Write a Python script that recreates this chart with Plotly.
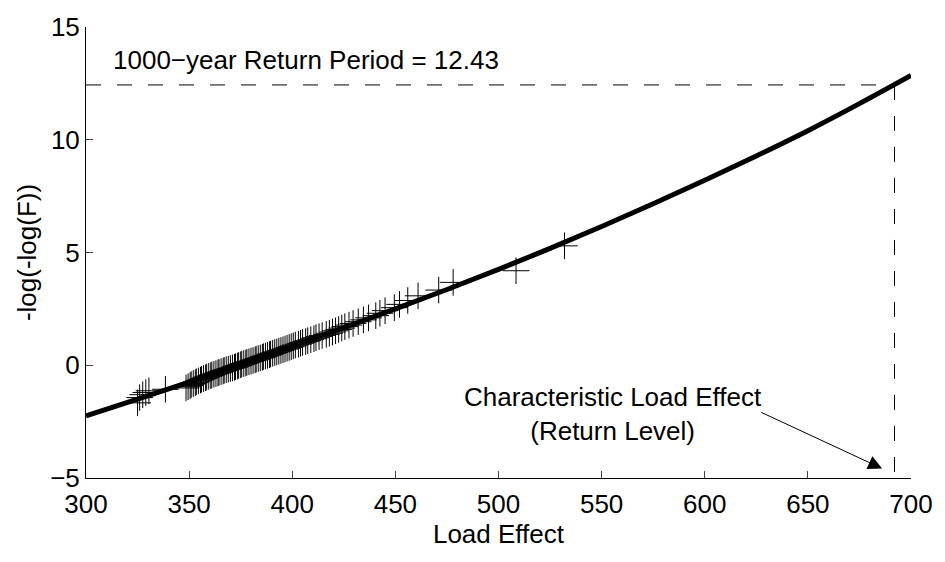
import plotly.graph_objects as go

# fitted curve
curve_x = [300, 325, 350, 375, 400, 425, 450, 475, 500, 525, 550, 575, 600, 625, 650, 675, 700]
curve_y = [-2.24, -1.50, -0.75, 0.04, 0.85, 1.67, 2.50, 3.36, 4.25, 5.18, 6.15, 7.16, 8.20, 9.28, 10.40, 11.60, 12.85]

# observed load effects (sorted) and their reduced variates
data_x = [325.0, 326.0, 327.5, 329.0, 330.5, 338.5, 348.5, 349.5, 350.5, 351.0,
          352.0, 353.0, 353.5, 354.5, 355.5, 356.0, 357.0, 358.0, 358.5, 359.5,
          360.5, 361.0, 362.0, 363.0, 364.0, 364.5, 365.5, 366.5, 367.0, 368.0,
          369.0, 370.0, 371.0, 372.0, 372.5, 373.5, 374.0, 375.0, 375.5, 376.5,
          377.5, 378.0, 379.0, 380.0, 381.0, 382.0, 382.5, 383.5, 384.5, 385.5,
          386.0, 387.0, 388.0, 389.0, 389.5, 390.5, 391.5, 392.5, 393.5, 394.5,
          395.5, 396.5, 397.5, 398.5, 399.5, 400.5, 401.5, 403.0, 404.0, 405.0,
          406.5, 407.5, 409.0, 410.5, 411.5, 413.0, 414.5, 416.5, 418.0, 419.5,
          421.0, 422.5, 424.0, 425.5, 427.5, 429.5, 432.0, 434.5, 437.0, 440.5,
          442.5, 445.0, 449.5, 452.0, 456.0, 461.0, 471.0, 478.0, 508.5, 532.0]
data_y = [-1.667, -1.435, -1.305, -1.210, -1.132, -1.065, -1.006, -0.952, -0.902, -0.856,
          -0.813, -0.771, -0.732, -0.694, -0.658, -0.623, -0.589, -0.556, -0.523, -0.492,
          -0.460, -0.430, -0.400, -0.370, -0.341, -0.312, -0.284, -0.255, -0.227, -0.200,
          -0.172, -0.144, -0.117, -0.090, -0.062, -0.035, -0.008, 0.019, 0.047, 0.074,
          0.101, 0.128, 0.156, 0.183, 0.211, 0.239, 0.267, 0.295, 0.324, 0.352,
          0.381, 0.410, 0.440, 0.469, 0.499, 0.530, 0.560, 0.592, 0.623, 0.656,
          0.688, 0.721, 0.755, 0.789, 0.824, 0.860, 0.897, 0.934, 0.972, 1.011,
          1.051, 1.092, 1.135, 1.178, 1.223, 1.269, 1.317, 1.367, 1.418, 1.472,
          1.528, 1.587, 1.648, 1.713, 1.781, 1.853, 1.930, 2.013, 2.102, 2.199,
          2.305, 2.421, 2.552, 2.700, 2.872, 3.079, 3.335, 3.676, 4.192, 5.296]

return_level = 692.0
return_period_value = 12.43
x_ticks = [300, 350, 400, 450, 500, 550, 600, 650, 700]
y_ticks = [-5, 0, 5, 10, 15]
x_range = [300, 700]
y_range = [-5, 15]

FONT = "Liberation Sans, Arial, Helvetica, sans-serif"
FS = 26

fig = go.Figure()

fig.add_trace(go.Scatter(
    x=[x_range[0], return_level], y=[return_period_value, return_period_value],
    mode="lines", line=dict(color="black", width=1, dash="15px,16px"),
    hoverinfo="skip", showlegend=False))
fig.add_trace(go.Scatter(
    x=[return_level, return_level], y=[return_period_value, y_range[0]],
    mode="lines", line=dict(color="black", width=1, dash="15px,16px"),
    hoverinfo="skip", showlegend=False))

fig.add_trace(go.Scatter(
    x=data_x, y=data_y, mode="markers",
    marker=dict(symbol="cross-thin-open", size=19, color="black",
                line=dict(color="black", width=1)),
    showlegend=False))

fig.add_trace(go.Scatter(
    x=curve_x, y=curve_y, mode="lines", line=dict(color="black", width=5, shape="spline"),
    showlegend=False))

fig.add_annotation(
    x=312, y=13.55, xref="x", yref="y", text="1000\u2212year Return Period = 12.43",
    showarrow=False, xanchor="left", yanchor="middle",
    font=dict(family=FONT, size=FS, color="black"))

fig.add_annotation(
    x=555.7, y=-2.15, xref="x", yref="y",
    text="Characteristic Load Effect<br>(Return Level)",
    showarrow=False, xanchor="center", yanchor="middle", align="center",
    font=dict(family=FONT, size=FS, color="black"))

fig.add_annotation(
    x=686.0, y=-4.58, ax=626.7, ay=-2.06, xref="x", yref="y", axref="x", ayref="y",
    text="", showarrow=True, arrowhead=2, arrowsize=2.8, arrowwidth=1, arrowcolor="black")

fig.update_layout(
    width=945, height=562,
    margin=dict(l=86, r=30, t=22, b=84),
    paper_bgcolor="white", plot_bgcolor="white",
    font=dict(family=FONT, size=FS, color="black"),
    xaxis=dict(range=x_range, tickvals=x_ticks, ticks="inside", ticklen=7,
               showline=True, linecolor="black", linewidth=1, mirror=False,
               showgrid=False, zeroline=False, ticklabelstandoff=3,
               title=dict(text="Load Effect", font=dict(family=FONT, size=FS), standoff=4),
               tickfont=dict(family=FONT, size=FS)),
    yaxis=dict(range=y_range, tickvals=y_ticks, ticks="inside", ticklen=7,
               showline=True, linecolor="black", linewidth=1, mirror=False,
               showgrid=False, zeroline=False,
               title=dict(text="-log(-log(F))", font=dict(family=FONT, size=FS), standoff=6),
               tickfont=dict(family=FONT, size=FS)),
)

fig.write_html("out.html")
